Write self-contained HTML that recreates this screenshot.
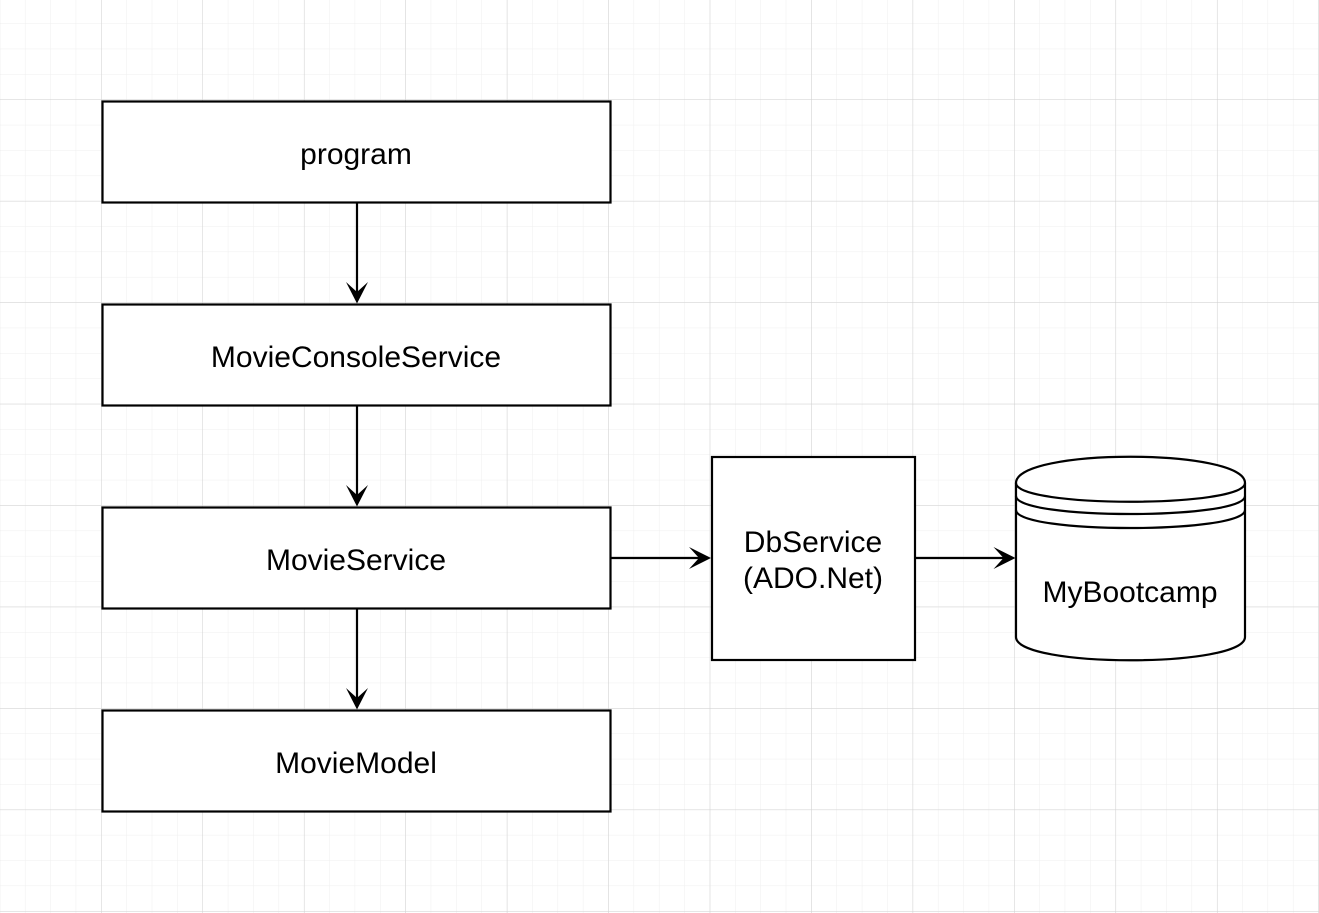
<!DOCTYPE html>
<html><head><meta charset="utf-8"><style>
html,body{margin:0;padding:0;background:#fff;}
svg{display:block;}
text{font-family:"Liberation Sans",Arial,sans-serif;font-size:30px;fill:#000;text-anchor:middle;}
</style></head><body>
<svg width="1319" height="913" viewBox="0 0 1319 913" xmlns="http://www.w3.org/2000/svg">
<defs>
<pattern id="minor" x="0.1" y="-1.5" width="25.36" height="25.36" patternUnits="userSpaceOnUse">
<path d="M25.36 0V25.36M0 25.36H25.36" stroke="#efefef" stroke-width="1" fill="none"/>
</pattern>
<pattern id="major" x="0.1" y="-1.5" width="101.45" height="101.45" patternUnits="userSpaceOnUse">
<path d="M101.45 0V101.45M0 101.45H101.45" stroke="#d0d0d0" stroke-width="1" fill="none"/>
</pattern>
</defs>
<rect width="1319" height="913" fill="url(#minor)"/>
<rect width="1319" height="913" fill="url(#major)"/>
<g fill="#fff" stroke="#000" stroke-width="2.2">
<rect x="102.5" y="101.5" width="508" height="101"/>
<rect x="102.5" y="304.5" width="508" height="101"/>
<rect x="102.5" y="507.5" width="508" height="101"/>
<rect x="102.5" y="710.5" width="508" height="101"/>
<rect x="712" y="457" width="203" height="203"/>
</g>
<g stroke="#000" stroke-width="2.2" fill="none">
<line x1="357" y1="203" x2="357" y2="294"/>
<line x1="357" y1="406" x2="357" y2="497"/>
<line x1="357" y1="609" x2="357" y2="700"/>
<line x1="611" y1="558" x2="702" y2="558"/>
<line x1="915" y1="558" x2="1006" y2="558"/>
</g>
<g fill="#000">
<path d="M357 303.5L346 282L357 292L368 282Z"/>
<path d="M357 506.5L346 485L357 495L368 485Z"/>
<path d="M357 709.5L346 688L357 698L368 688Z"/>
<path d="M711 558L689 547L699 558L689 569Z"/>
<path d="M1015.5 558L993.5 547L1003.5 558L993.5 569Z"/>
</g>
<g stroke="#000" stroke-width="2.2" fill="#fff">
<path d="M1016 483C1016 448 1245 448 1245 483V637C1245 668 1016 668 1016 637Z"/>
<path d="M1016 483C1016 508 1245 508 1245 483" fill="none"/>
<path d="M1016 496C1016 520 1245 520 1245 496" fill="none"/>
<path d="M1016 510C1016 534 1245 534 1245 510" fill="none"/>
</g>
<text x="356" y="164">program</text>
<text x="356" y="367">MovieConsoleService</text>
<text x="356" y="570">MovieService</text>
<text x="356" y="773">MovieModel</text>
<text x="813" y="552">DbService</text>
<text x="813" y="588">(ADO.Net)</text>
<text x="1130" y="602">MyBootcamp</text>
</svg>
</body></html>
